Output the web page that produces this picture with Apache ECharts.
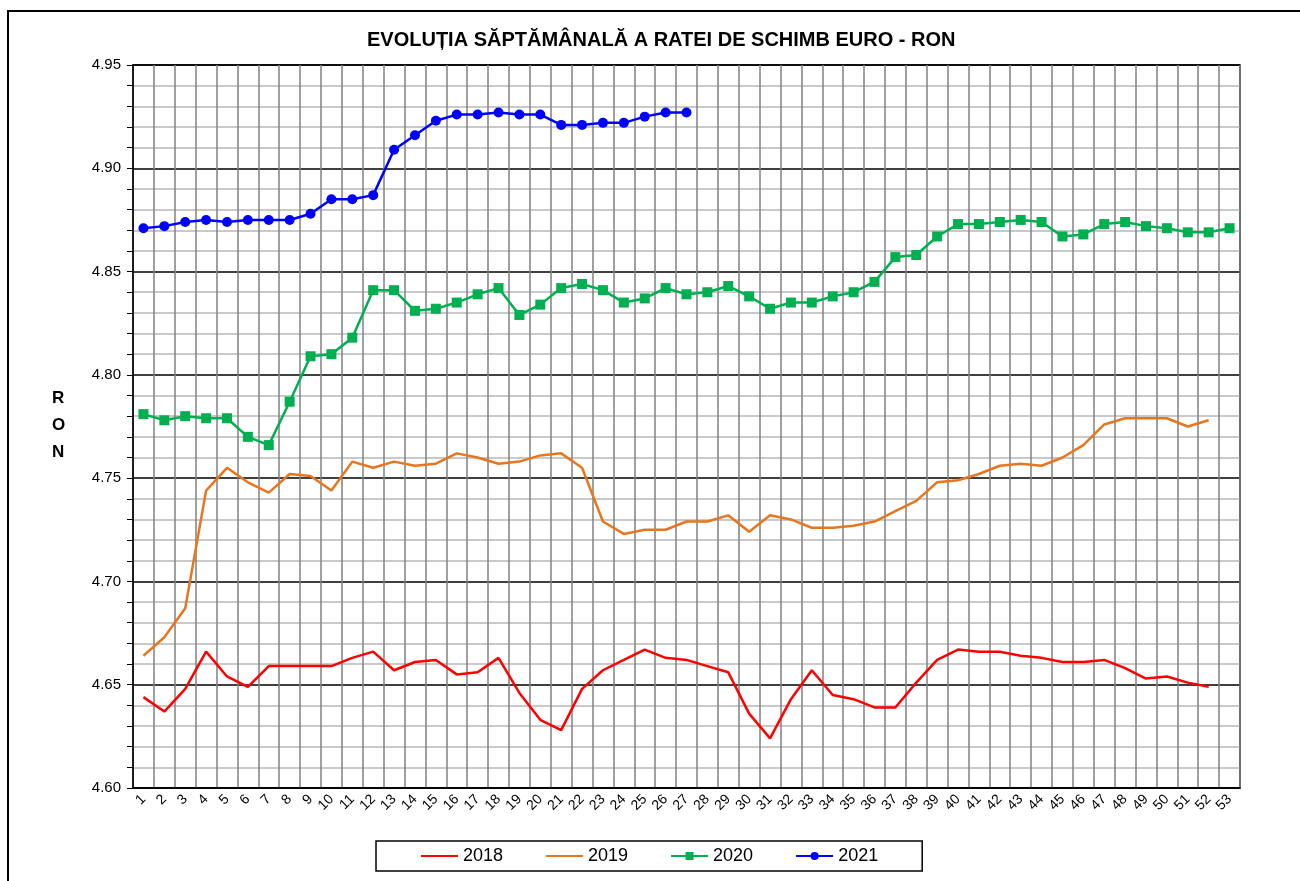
<!DOCTYPE html>
<html>
<head>
<meta charset="utf-8">
<script src="https://cdn.jsdelivr.net/npm/echarts@6/dist/echarts.min.js"></script>
<style>
  html, body { margin: 0; padding: 0; background: #fff; }
  #chart { width: 1300px; height: 881px; }
</style>
</head>
<body>
<div id="chart"></div>
<script>
// saptamani 1..53
const weeks = Array.from({ length: 53 }, (_, i) => String(i + 1))

const y2018 = [4.644, 4.637, 4.648, 4.666, 4.654, 4.649, 4.659, 4.659, 4.659, 4.659,
  4.663, 4.666, 4.657, 4.661, 4.662, 4.655, 4.656, 4.663, 4.646, 4.633,
  4.628, 4.648, 4.657, 4.662, 4.667, 4.663, 4.662, 4.659, 4.656, 4.636,
  4.624, 4.643, 4.657, 4.645, 4.643, 4.639, 4.639, 4.651, 4.662, 4.667,
  4.666, 4.666, 4.664, 4.663, 4.661, 4.661, 4.662, 4.658, 4.653, 4.654,
  4.651, 4.649]

const y2019 = [4.664, 4.673, 4.687, 4.744, 4.755, 4.748, 4.743, 4.752, 4.751, 4.744,
  4.758, 4.755, 4.758, 4.756, 4.757, 4.762, 4.760, 4.757, 4.758, 4.761,
  4.762, 4.755, 4.729, 4.723, 4.725, 4.725, 4.729, 4.729, 4.732, 4.724,
  4.732, 4.730, 4.726, 4.726, 4.727, 4.729, 4.734, 4.739, 4.748, 4.749,
  4.752, 4.756, 4.757, 4.756, 4.760, 4.766, 4.776, 4.779, 4.779, 4.779,
  4.775, 4.778]

const y2020 = [4.781, 4.778, 4.780, 4.779, 4.779, 4.770, 4.766, 4.787, 4.809, 4.810,
  4.818, 4.841, 4.841, 4.831, 4.832, 4.835, 4.839, 4.842, 4.829, 4.834,
  4.842, 4.844, 4.841, 4.835, 4.837, 4.842, 4.839, 4.840, 4.843, 4.838,
  4.832, 4.835, 4.835, 4.838, 4.840, 4.845, 4.857, 4.858, 4.867, 4.873,
  4.873, 4.874, 4.875, 4.874, 4.867, 4.868, 4.873, 4.874, 4.872, 4.871,
  4.869, 4.869, 4.871]

const y2021 = [4.871, 4.872, 4.874, 4.875, 4.874, 4.875, 4.875, 4.875, 4.878, 4.885,
  4.885, 4.887, 4.909, 4.916, 4.923, 4.926, 4.926, 4.927, 4.926, 4.926,
  4.921, 4.921, 4.922, 4.922, 4.925, 4.927, 4.927]

const font = '"Liberation Sans", Arial, sans-serif'

const chart = echarts.init(document.getElementById('chart'))
chart.setOption({
  animation: false,
  backgroundColor: '#fff',
  title: {
    text: 'EVOLUȚIA SĂPTĂMÂNALĂ A RATEI DE SCHIMB EURO - RON',
    left: 362,
    top: 25,
    textStyle: { fontFamily: font, fontSize: 20, fontWeight: 'bold', color: '#000' }
  },
  graphic: [
    {
      type: 'rect',
      shape: { x: 8, y: 11, width: 1310, height: 900 },
      style: { fill: null, stroke: '#000', lineWidth: 2 },
      silent: true
    },
    {
      type: 'text',
      left: 52,
      top: 385,
      style: {
        text: 'R\nO\nN',
        font: 'bold 17px ' + font,
        fill: '#000',
        align: 'center',
        lineHeight: 27
      }
    }
  ],
  legend: {
    left: 376,
    top: 841,
    itemWidth: 37,
    itemHeight: 10,
    itemGap: 42,
    padding: [6, 44, 6, 44],
    borderColor: '#000',
    borderWidth: 1.5,
    textStyle: { fontFamily: font, fontSize: 18, color: '#000' },
    data: [
      { name: '2018', itemStyle: { opacity: 0 } },
      { name: '2019', itemStyle: { opacity: 0 } },
      { name: '2020' },
      { name: '2021' }
    ]
  },
  grid: {
    left: 133, top: 65, width: 1107, height: 723,
    show: true, borderColor: '#000', borderWidth: 1.5
  },
  xAxis: {
    type: 'category',
    data: weeks,
    boundaryGap: true,
    axisLine: { lineStyle: { color: '#000', width: 1.5 } },
    axisTick: { show: false },
    axisLabel: {
      rotate: 45, interval: 0, fontFamily: font, fontSize: 14, color: '#000', margin: 9
    },
    splitLine: { show: true, interval: 0, lineStyle: { color: '#808080', width: 1.5 } }
  },
  yAxis: {
    type: 'value',
    min: 4.60,
    max: 4.95,
    interval: 0.05,
    axisLine: { show: true, lineStyle: { color: '#000', width: 1.5 } },
    axisTick: { show: true, length: 6, lineStyle: { color: '#000' } },
    minorTick: { show: true, splitNumber: 5, length: 6, lineStyle: { color: '#000' } },
    axisLabel: {
      fontFamily: font, fontSize: 15, color: '#000', margin: 12,
      formatter: v => v.toFixed(2)
    },
    splitLine: { show: true, lineStyle: { color: '#000', width: 1.5 } },
    minorSplitLine: { show: true, lineStyle: { color: '#b8b8b8', width: 1.5 } }
  },
  series: [
    {
      name: '2018', type: 'line', data: y2018, symbol: 'none',
      lineStyle: { color: '#ff0000', width: 2.5 }, itemStyle: { color: '#ff0000' }
    },
    {
      name: '2019', type: 'line', data: y2019, symbol: 'none',
      lineStyle: { color: '#e8761e', width: 2.5 }, itemStyle: { color: '#e8761e' }
    },
    {
      name: '2020', type: 'line', data: y2020, symbol: 'rect', symbolSize: 10,
      lineStyle: { color: '#00b050', width: 2.5 }, itemStyle: { color: '#00b050' }
    },
    {
      name: '2021', type: 'line', data: y2021, symbol: 'circle', symbolSize: 10,
      lineStyle: { color: '#0000ff', width: 2.5 }, itemStyle: { color: '#0000ff' }
    }
  ]
})
window.addEventListener('resize', () => chart.resize())
</script>
</body>
</html>
